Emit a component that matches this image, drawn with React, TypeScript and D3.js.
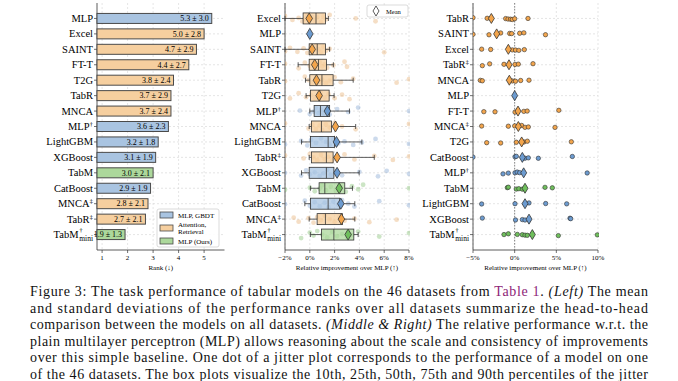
import React from 'react';
import * as d3 from 'd3';

// ---------- DATA ----------
const rankModels = ['MLP', 'Excel', 'SAINT', 'FT-T', 'T2G', 'TabR', 'MNCA', 'MLP†', 'LightGBM', 'XGBoost', 'TabM', 'CatBoost', 'MNCA‡', 'TabR‡', 'TabM†mini'];
const rankMean = [5.3, 5.0, 4.7, 4.4, 3.8, 3.7, 3.7, 3.6, 3.2, 3.1, 3.0, 2.9, 2.8, 2.7, 1.9];
const rankStd = [3.0, 2.8, 2.9, 2.7, 2.4, 2.9, 2.4, 2.3, 1.8, 1.9, 2.1, 1.9, 2.1, 2.1, 1.3];
const rankTicks = [1, 2, 3, 4, 5];

const blueModels = ['MLP', 'MLP†', 'LightGBM', 'XGBoost', 'CatBoost'];
const greenModels = ['TabM', 'TabM†mini'];
const legendLabels = [['MLP, GBDT'], ['Attention,', 'Retrieval'], ['MLP (Ours)']];

const boxModels = ['Excel', 'MLP', 'SAINT', 'FT-T', 'TabR', 'T2G', 'MLP†', 'MNCA', 'LightGBM', 'TabR‡', 'XGBoost', 'TabM', 'CatBoost', 'MNCA‡', 'TabM†mini'];
const boxP10 = [-2.0, 0, -2.0, -0.94, -0.35, -0.3, 0.0, -0.05, -0.67, -0.05, -0.67, 0.05, -0.4, -0.05, 0.05];
const boxP25 = [-0.54, 0, -0.05, -0.05, 0.0, 0.05, 0.35, 0.13, 0.05, 0.13, -0.05, 0.75, 0.05, 0.59, 0.94];
const boxP50 = [0.5, 0, 0.6, 0.7, 0.98, 0.8, 0.86, 0.94, 1.48, 1.34, 1.34, 1.21, 1.48, 1.26, 1.94];
const boxP75 = [1.26, 0, 1.26, 1.34, 1.88, 1.56, 1.6, 1.75, 2.0, 1.88, 1.94, 2.82, 2.42, 2.63, 3.55];
const boxP90 = [1.5, 0, 1.6, 1.9, 3.5, 1.96, 3.2, 3.7, 4.2, 5.2, 3.98, 3.44, 3.63, 3.63, 3.9];
const boxMean = [-0.05, 0, 0.19, 0.4, 0.54, 0.75, 1.42, 2.07, 2.15, 2.2, 2.2, 2.37, 2.5, 2.55, 3.09];
const boxDots = [
  [-2.0, -1.4, -0.9, -0.6, -0.4, -0.2, 0.0, 0.2, 0.4, 0.6, 0.9, 1.1, 1.3, 1.6, 3.7, 5.3],
  [0],
  [-2.0, -1.6, -1.0, -0.5, -0.2, 0.1, 0.3, 0.5, 0.7, 0.9, 1.1, 1.3, 1.6, 6.0],
  [-2.0, -0.9, -0.4, 0.0, 0.2, 0.4, 0.6, 0.8, 1.0, 1.2, 1.4, 1.9, 2.8, 3.0],
  [-2.0, -0.4, -0.1, 0.2, 0.5, 0.8, 1.0, 1.3, 1.6, 2.0, 2.5, 3.5, 7.0, 8.0],
  [-1.6, -0.9, -0.3, 0.1, 0.4, 0.7, 0.9, 1.2, 1.5, 2.0, 2.6, 3.2],
  [-0.8, 0.0, 0.3, 0.5, 0.7, 0.9, 1.1, 1.3, 1.6, 2.2, 3.1, 3.9, 8.0],
  [-2.0, -0.1, 0.2, 0.5, 0.8, 1.0, 1.3, 1.6, 2.0, 2.6, 3.7, 8.0],
  [-2.0, -0.7, -0.2, 0.1, 0.5, 0.9, 1.3, 1.6, 1.9, 2.3, 2.8, 3.5, 4.2, 5.3, 8.0],
  [-2.0, -0.5, 0.0, 0.3, 0.6, 0.9, 1.2, 1.5, 1.8, 2.2, 2.8, 3.6, 5.2, 6.7, 8.0],
  [-2.0, -0.7, -0.3, 0.0, 0.4, 0.8, 1.1, 1.4, 1.7, 2.1, 2.6, 4.0, 5.5, 6.2, 8.0],
  [-2.0, 0.0, 0.4, 0.8, 1.0, 1.3, 1.7, 2.1, 2.5, 2.9, 3.4, 3.9, 4.3, 8.0],
  [-2.0, -0.4, 0.0, 0.4, 0.8, 1.2, 1.5, 1.9, 2.3, 2.6, 3.1, 3.6, 5.6, 8.0],
  [-1.3, -0.9, -0.1, 0.3, 0.6, 0.9, 1.2, 1.6, 2.0, 2.4, 2.8, 3.6, 4.8, 7.0],
  [-0.7, 0.0, 0.3, 0.6, 1.0, 1.4, 1.8, 2.2, 2.6, 3.0, 3.4, 3.9, 5.6, 8.0],
];
const midTicks = [-2, 0, 2, 4, 6, 8];

const jitModels = ['TabR', 'SAINT', 'Excel', 'TabR‡', 'MNCA', 'MLP', 'FT-T', 'MNCA‡', 'T2G', 'CatBoost', 'MLP†', 'TabM', 'LightGBM', 'XGBoost', 'TabM†mini'];
const jitDots = [
  [-5.0, -3.3, -1.08, -0.8, -0.5, -0.28, 0.0, 1.6],
  [-5.0, -3.08, -1.68, -0.6, -0.36, 0.6, 1.1, 3.7],
  [-3.96, -2.88, -0.28, 0.1, 0.5, 1.16],
  [-3.88, -3.0, -1.28, 0.04, 0.44, 2.2],
  [-4.12, -3.88, -0.28, 0.1, 0.72, 1.72],
  [0],
  [-3.7, -2.36, 0.04, 1.1, 1.5, 5.3],
  [-3.96, -0.76, 0.0, 0.84, 1.24, 1.64, 4.84],
  [-3.36, -1.68, 0.2, 1.12, 1.52, 6.8],
  [-5.0, 0.04, 0.2, 1.24, 1.64, 2.84, 6.92],
  [-1.4, -0.76, 0.04, 0.3, 0.6, 8.7],
  [-0.88, -0.76, 0.2, 0.5, 0.92, 3.64, 4.52],
  [-3.96, 0.04, 1.72, 3.72, 6.24],
  [-3.88, 0.1, 0.92, 1.24, 6.64, 6.72],
  [-1.28, -0.76, 0.32, 0.92, 1.24, 1.52, 5.24, 9.92],
];
const jitMean = [-2.8, -2.16, -0.76, -0.68, -0.64, 0, 0.4, 0.44, 0.84, 0.92, 1.08, 1.24, 1.24, 1.72, 2.12];
const rightTicks = [-5, 0, 5, 10];

const captionLines = [
  'Figure 3: The task performance of tabular models on the 46 datasets from |Table 1|. /(Left)/ The mean',
  'and standard deviations of the performance ranks over all datasets summarize the head-to-head',
  'comparison between the models on all datasets. /(Middle & Right)/ The relative performance w.r.t. the',
  'plain multilayer perceptron (MLP) allows reasoning about the scale and consistency of improvements',
  'over this simple baseline. One dot of a jitter plot corresponds to the performance of a model on one',
  'of the 46 datasets. The box plots visualize the 10th, 25th, 50th, 75th and 90th percentiles of the jitter',
];

// ---------- STYLE ----------
const FONT = '"Liberation Serif", "DejaVu Serif", serif';
const COLORS: Record<string, { bar: string; box: string; dot: string; mark: string }> = {
  blue: { bar: '#a9c4e1', box: 'rgba(168,196,226,0.75)', dot: 'rgba(110,150,200,0.35)', mark: '#6c9bd0' },
  orange: { bar: '#f6cf9f', box: 'rgba(246,205,155,0.75)', dot: 'rgba(225,160,90,0.35)', mark: '#f3a54c' },
  green: { bar: '#acd89b', box: 'rgba(172,216,155,0.75)', dot: 'rgba(110,180,90,0.35)', mark: '#6fbf5c' },
};
const groupOf = (m: string) => (blueModels.includes(m) ? 'blue' : greenModels.includes(m) ? 'green' : 'orange');
const EDGE = '#4a4a4a';
const GRID = '#d4d4d4';
const jitterOffsets = [-2.5, 1.5, -0.5, 3, 0.5, -3, 2, -1.5, 2.5, -1, 3.5, -2, 1, -3.5, 0, 2.8];

const TOP = 3;
const BOTTOM = 250;

function pctLabel(v: number) {
  return v < 0 ? `−${-v}%` : `${v}%`;
}

function Label({ name, x, y }: { name: string; x: number; y: number }) {
  const fs = 10.5;
  if (name.endsWith('mini')) {
    const w = 14.5;
    return (
      <g fontFamily={FONT}>
        <text x={x} y={y + 6.5} fontSize={7.5} textAnchor="end">mini</text>
        <text x={x - w} y={y + 3} fontSize={fs} textAnchor="end">TabM</text>
        <text x={x - w + 0.8} y={y - 3} fontSize={7}>†</text>
      </g>
    );
  }
  const last = name[name.length - 1];
  if (last === '†' || last === '‡') {
    return (
      <text x={x} y={y + 3.5} fontSize={fs} textAnchor="end" fontFamily={FONT}>
        {name.slice(0, -1)}
        <tspan fontSize={7} dy={-4}>{last}</tspan>
      </text>
    );
  }
  return (
    <text x={x} y={y + 3.5} fontSize={fs} textAnchor="end" fontFamily={FONT}>{name}</text>
  );
}

function Diamond({ x, y, hw, hh, fill }: { x: number; y: number; hw: number; hh: number; fill: string }) {
  return <path d={`M${x},${y - hh}L${x + hw},${y}L${x},${y + hh}L${x - hw},${y}Z`} fill={fill} stroke="#333" strokeWidth={0.8} />;
}

function Frame({ x0, x1, y, ticks, fmt, title, models, xs }: any) {
  return (
    <g fontFamily={FONT}>
      {models.map((m: string) => (
        <g key={m}>
          <line x1={x0} x2={x1} y1={y(m)} y2={y(m)} stroke={GRID} strokeWidth={0.6} strokeDasharray="2,2" />
          <line x1={x0 - 3} x2={x0} y1={y(m)} y2={y(m)} stroke="#333" strokeWidth={0.7} />
          <Label name={m} x={x0 - 4} y={y(m)} />
        </g>
      ))}
      {ticks.map((t: number) => (
        <g key={t}>
          <line x1={xs(t)} x2={xs(t)} y1={TOP} y2={BOTTOM} stroke={GRID} strokeWidth={0.6} strokeDasharray="2,2" />
          <line x1={xs(t)} x2={xs(t)} y1={BOTTOM} y2={BOTTOM + 3} stroke="#333" strokeWidth={0.7} />
          <text x={xs(t)} y={BOTTOM + 10} fontSize={7} textAnchor="middle">{fmt(t)}</text>
        </g>
      ))}
      <line x1={x0} x2={x0} y1={TOP} y2={BOTTOM} stroke="#333" strokeWidth={0.8} />
      <line x1={x0} x2={x1} y1={BOTTOM} y2={BOTTOM} stroke="#333" strokeWidth={0.8} />
      <text x={(x0 + x1) / 2} y={BOTTOM + 20} fontSize={7} textAnchor="middle">{title}</text>
    </g>
  );
}

function CaptionLine({ text, y }: { text: string; y: number }) {
  const parts: { s: string; kind: string }[] = [];
  const re = /(\|[^|]+\||\/[^/]+\/)/g;
  let last = 0;
  let m: RegExpExecArray | null;
  while ((m = re.exec(text))) {
    if (m.index > last) parts.push({ s: text.slice(last, m.index), kind: 'n' });
    const tok = m[0];
    parts.push({ s: tok.slice(1, -1), kind: tok[0] === '|' ? 'link' : 'it' });
    last = m.index + tok.length;
  }
  if (last < text.length) parts.push({ s: text.slice(last), kind: 'n' });
  return (
    <text x={30} y={y} fontSize={14} fontFamily={FONT} textLength={618} lengthAdjust="spacing" fill="#111">
      {parts.map((p, i) => (
        <tspan key={i} fill={p.kind === 'link' ? '#8e2477' : undefined} fontStyle={p.kind === 'it' ? 'italic' : undefined}>
          {p.s}
        </tspan>
      ))}
    </text>
  );
}

export default function App() {
  const yRank = d3.scalePoint<string>().domain(rankModels).range([TOP, BOTTOM]).padding(1);
  const yBox = d3.scalePoint<string>().domain(boxModels).range([TOP, BOTTOM]).padding(1);
  const yJit = d3.scalePoint<string>().domain(jitModels).range([TOP, BOTTOM]).padding(1);

  const xRank = d3.scaleLinear().domain([0.8, 5.8]).range([97, 224.5]);
  const xMid = d3.scaleLinear().domain([-2, 8]).range([285, 409]);
  const xRight = d3.scaleLinear().domain([-5, 10]).range([473, 598]);

  const barH = 10;
  const boxH = 11;

  return (
    <svg width={678} height={381} style={{ position: 'absolute', left: 0, top: 0, background: '#fff' }} fontFamily={FONT}>
      <defs>
        <clipPath id="clipMid"><rect x={285} y={TOP} width={125} height={BOTTOM - TOP} /></clipPath>
        <clipPath id="clipRight"><rect x={473} y={TOP} width={126} height={BOTTOM - TOP} /></clipPath>
      </defs>
      <rect width={678} height={381} fill="#fff" />

      {/* LEFT PANEL */}
      <Frame x0={97} x1={224.5} y={yRank} ticks={rankTicks} fmt={(t: number) => `${t}`} title="Rank (↓)" models={rankModels} xs={xRank} />
      {rankModels.map((m, i) => {
        const c = COLORS[groupOf(m)];
        const x0 = xRank(0.8);
        const x1 = xRank(rankMean[i]);
        const yc = yRank(m)!;
        return (
          <g key={m}>
            <rect x={x0} y={yc - barH / 2} width={x1 - x0} height={barH} fill={c.bar} stroke={EDGE} strokeWidth={1} />
            <text x={x1 - 3} y={yc + 2.8} fontSize={8} textAnchor="end">{`${rankMean[i].toFixed(1)} ± ${rankStd[i].toFixed(1)}`}</text>
          </g>
        );
      })}
      <g>
        <rect x={157} y={209} width={62} height={38} rx={2} fill="rgba(255,255,255,0.9)" stroke="#ccc" strokeWidth={0.7} />
        {legendLabels.map((lines, i) => {
          const cy = [215, 228, 241][i];
          const c = COLORS[['blue', 'orange', 'green'][i]];
          return (
            <g key={i}>
              <rect x={160} y={cy - 3} width={13} height={6} fill={c.bar} stroke={EDGE} strokeWidth={0.8} />
              {lines.map((l, j) => (
                <text key={j} x={178} y={cy + 2.5 + (j - (lines.length - 1) / 2) * 7.5} fontSize={7}>{l}</text>
              ))}
            </g>
          );
        })}
      </g>

      {/* MIDDLE PANEL */}
      <Frame x0={285} x1={409} y={yBox} ticks={midTicks} fmt={pctLabel} title="Relative improvement over MLP (↑)" models={boxModels} xs={xMid} />
      <g clipPath="url(#clipMid)">
        {boxModels.map((m, i) => {
          const c = COLORS[groupOf(m)];
          const yc = yBox(m)!;
          return (
            <g key={m}>
              {m !== 'MLP' && boxDots[i].map((v, k) => (
                <circle key={k} cx={xMid(v)} cy={yc + jitterOffsets[(k + i * 3) % jitterOffsets.length]} r={2.4} fill={c.dot} />
              ))}
            </g>
          );
        })}
      </g>
      {boxModels.map((m, i) => {
        const c = COLORS[groupOf(m)];
        const yc = yBox(m)!;
        if (m === 'MLP') {
          return <Diamond key={m} x={xMid(boxMean[i])} y={yc} hw={3.3} hh={5.5} fill={c.mark} />;
        }
        const a = xMid(boxP10[i]), b = xMid(boxP25[i]), md = xMid(boxP50[i]), d = xMid(boxP75[i]), e = xMid(boxP90[i]);
        return (
          <g key={m} stroke="#333" strokeWidth={0.8}>
            <line x1={a} x2={b} y1={yc} y2={yc} />
            <line x1={d} x2={e} y1={yc} y2={yc} />
            <line x1={a} x2={a} y1={yc - 2.5} y2={yc + 2.5} />
            <line x1={e} x2={e} y1={yc - 2.5} y2={yc + 2.5} />
            <rect x={b} y={yc - boxH / 2} width={d - b} height={boxH} fill={c.box} />
            <line x1={md} x2={md} y1={yc - boxH / 2} y2={yc + boxH / 2} />
            <Diamond x={xMid(boxMean[i])} y={yc} hw={3.3} hh={5.5} fill={c.mark} />
          </g>
        );
      })}
      <g>
        <rect x={367} y={5} width={41} height={12} rx={2} fill="#fff" stroke="#ccc" strokeWidth={0.7} />
        <Diamond x={376} y={11} hw={3} hh={5} fill="#fff" />
        <text x={386} y={13.5} fontSize={6.5}>Mean</text>
      </g>

      {/* RIGHT PANEL */}
      <Frame x0={473} x1={598} y={yJit} ticks={rightTicks} fmt={pctLabel} title="Relative improvement over MLP (↑)" models={jitModels} xs={xRight} />
      <line x1={xRight(0)} x2={xRight(0)} y1={TOP} y2={BOTTOM} stroke="#555" strokeWidth={0.7} strokeDasharray="1.5,1.5" />
      <g clipPath="url(#clipRight)">
        {jitModels.map((m, i) => {
          const c = COLORS[groupOf(m)];
          const yc = yJit(m)!;
          return (
            <g key={m}>
              {m !== 'MLP' && jitDots[i].map((v, k) => (
                <circle key={k} cx={xRight(Math.max(-5, Math.min(10, v)))} cy={yc + jitterOffsets[(k * 2 + i) % jitterOffsets.length] * 0.3} r={2.2} fill={c.mark} stroke="#333" strokeWidth={0.6} />
              ))}
              <Diamond x={xRight(jitMean[i])} y={yc} hw={3} hh={5} fill={c.mark} />
            </g>
          );
        })}
      </g>

      {/* CAPTION */}
      {captionLines.map((l, i) => (
        <CaptionLine key={i} text={l} y={296 + i * 16.6} />
      ))}
    </svg>
  );
}
